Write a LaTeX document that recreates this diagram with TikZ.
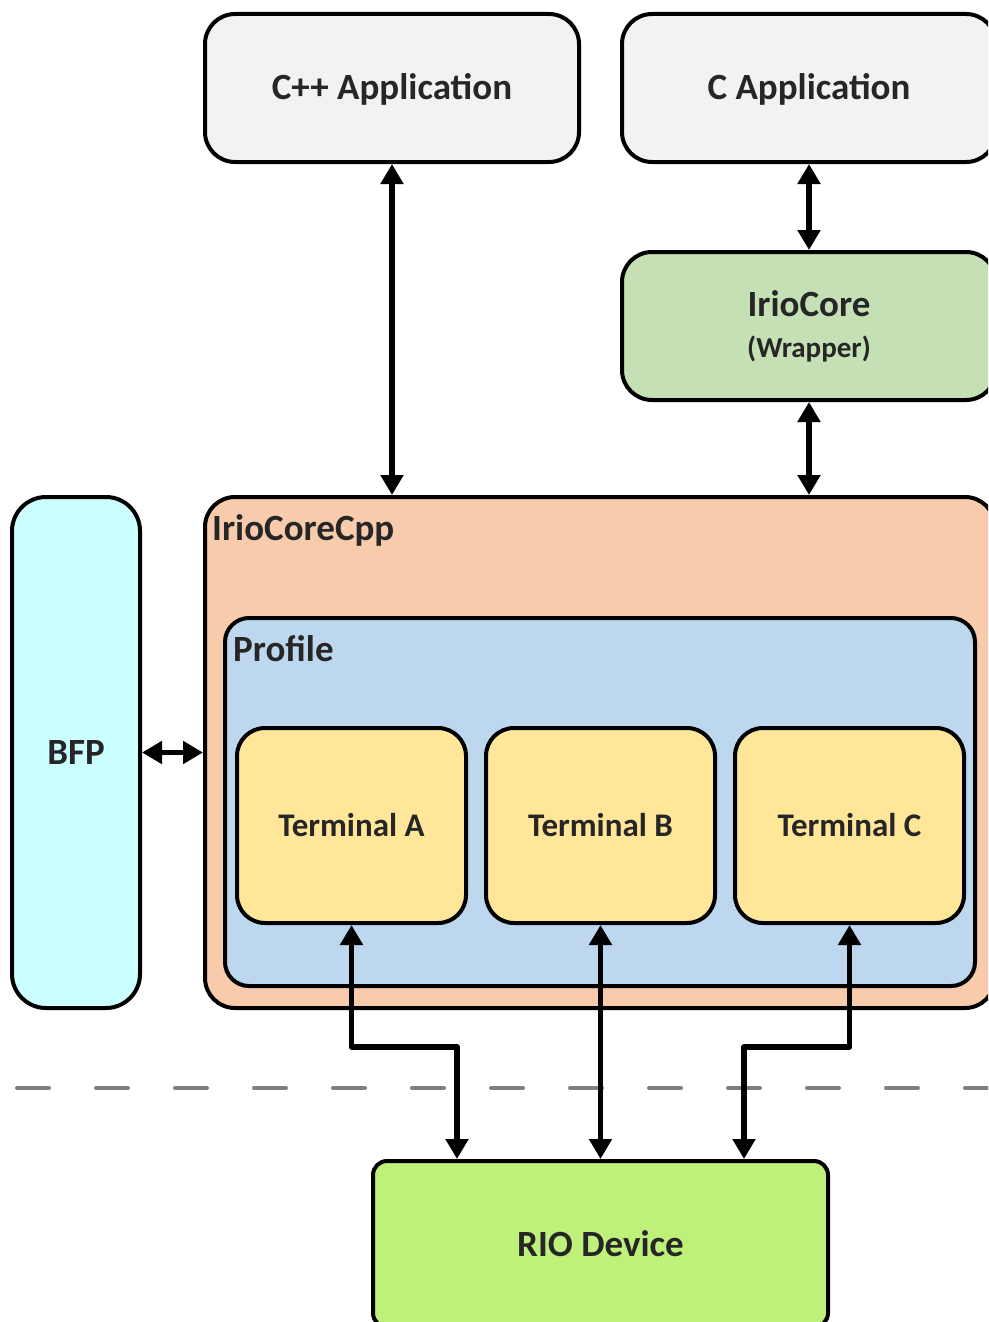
\documentclass[tikz,border=0pt]{standalone}
\usepackage{fontspec}
\setmainfont{Carlito}
\usetikzlibrary{arrows.meta}
\definecolor{txt}{HTML}{262626}
\definecolor{appfill}{HTML}{F2F2F2}
\definecolor{wrapfill}{HTML}{C5E0B4}
\definecolor{corefill}{HTML}{F8CBAD}
\definecolor{proffill}{HTML}{BDD7EE}
\definecolor{termfill}{HTML}{FFE699}
\definecolor{bfpfill}{HTML}{CCFFFF}
\definecolor{riofill}{HTML}{BFF17A}
\definecolor{sepgray}{HTML}{808080}
\tikzset{
  blk/.style={draw=black, line width=4pt, rounded corners=30pt, inner sep=0pt,
    text=txt, font=\fontsize{37}{44}\selectfont\bfseries, align=center},
  app/.style={blk, fill=appfill, minimum width=374pt, minimum height=148pt, text depth=3pt},
  term/.style={blk, fill=termfill, minimum width=229pt, minimum height=195pt,
    rounded corners=28pt, font=\fontsize{33}{40}\selectfont\bfseries},
  lbl/.style={text=txt, font=\fontsize{37}{44}\selectfont\bfseries, inner sep=0pt, anchor=west},
  link/.style={line width=5.5pt, line join=round,
    {Triangle[length=20pt,width=22pt]}-{Triangle[length=20pt,width=22pt]}},
  sepline/.style={draw=sepgray, line width=4pt, line cap=round, dash pattern=on 32pt off 47pt}
}
\begin{document}
\begin{tikzpicture}[x=1pt,y=-1pt]
  \useasboundingbox (0,0) rectangle (988,1322);
  \clip (0,0) rectangle (988,1322);
  \fill[white] (0,0) rectangle (988,1322);

  % applications and the C wrapper
  \node[app] (cpp) at (392,88) {C++ Application};
  \node[app] (capp) at (809,88) {C Application};
  \node[blk, fill=wrapfill, minimum width=374pt, minimum height=148pt] (wrap) at (809,326)
    {IrioCore\\[-3pt]{\fontsize{29}{34}\selectfont(Wrapper)}};

  % core library with its profile and terminals
  \node[blk, fill=corefill, minimum width=790pt, minimum height=511pt, rounded corners=30pt] (core) at (600,752.5) {};
  \node[lbl] (corelbl) at (212,530) {IrioCoreCpp};
  \node[blk, fill=proffill, minimum width=750pt, minimum height=368pt, rounded corners=24pt] (prof) at (600,802) {};
  \node[lbl] (proflbl) at (233,649) {Profile};
  \node[term] (ta) at (351.5,825.5) {Terminal A};
  \node[term] (tb) at (600.5,825.5) {Terminal B};
  \node[term] (tc) at (849.5,825.5) {Terminal C};

  % side block
  \node[blk, fill=bfpfill, minimum width=128pt, minimum height=511pt, rounded corners=34pt] (bfp) at (76,752.5) {BFP};

  % hardware
  \node[blk, fill=riofill, minimum width=455pt, minimum height=166pt, rounded corners=14pt] (rio) at (600.5,1244) {RIO Device};

  % software / hardware boundary
  \coordinate (sepL) at (17,1088);
  \coordinate (sepR) at (1000,1088);
  \draw[sepline] (sepL) -- (sepR);

  % connectors
  \draw[link] (cpp.south) -- (cpp.south |- core.north);
  \draw[link] (capp.south) -- (wrap.north);
  \draw[link] (wrap.south) -- (wrap.south |- core.north);
  \draw[link] (bfp.east) -- (bfp.east -| core.west);

  \coordinate (ja) at (457,1047);
  \coordinate (jc) at (744,1047);
  \draw[link] (ta.south) |- (ja) -- (ja |- rio.north);
  \draw[link] (tb.south) -- (tb.south |- rio.north);
  \draw[link] (tc.south) |- (jc) -- (jc |- rio.north);
\end{tikzpicture}
\end{document}
